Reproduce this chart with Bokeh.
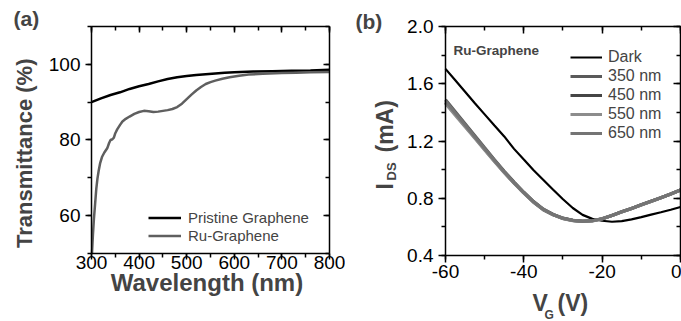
import numpy as np
from bokeh.plotting import figure
from bokeh.layouts import row
from bokeh.models import (Range1d, LinearAxis, SingleIntervalTicker, NumeralTickFormatter,
                          Label, Legend, LegendItem)
from bokeh.embed import file_html
from bokeh.resources import INLINE

# ---------------- data: panel (a) ----------------
wl_pristine = [300, 320, 340, 360, 380, 400, 420, 440, 460, 480, 500, 520, 540, 560, 580,
               600, 640, 680, 720, 760, 800]
t_pristine = [90.0, 91.0, 91.9, 92.6, 93.5, 94.2, 94.8, 95.5, 96.1, 96.6, 96.9, 97.2, 97.4,
              97.6, 97.8, 97.9, 98.1, 98.2, 98.3, 98.4, 98.6]

wl_ru = [301, 303, 305, 307.5, 310, 312.5, 315, 318, 322, 327, 333, 337, 340, 344, 347, 350,
         354, 360, 365, 372, 380, 390, 400, 410, 420, 430, 440, 450, 460, 470, 480, 490, 500,
         510, 520, 530, 540, 550, 560, 575, 590, 610, 630, 660, 700, 730, 760, 800]
t_ru = [50.0, 55.0, 59.0, 63.0, 67.0, 69.8, 71.8, 73.8, 75.5, 76.7, 77.8, 79.2, 80.0, 80.2,
        80.6, 81.8, 82.8, 84.0, 84.9, 85.6, 86.2, 86.9, 87.4, 87.7, 87.6, 87.4, 87.5, 87.7,
        87.9, 88.2, 88.7, 89.6, 90.8, 92.0, 93.1, 94.0, 94.8, 95.3, 95.7, 96.2, 96.6, 97.0,
        97.3, 97.5, 97.7, 97.8, 97.9, 98.0]

# ---------------- data: panel (b) ----------------
vg = [-60, -57.5, -55, -52.5, -50, -47.5, -45, -42.5, -40, -37.5, -35, -32.5, -30, -27.5,
      -25, -22.5, -20, -17.5, -15, -12.5, -10, -7.5, -5, -2.5, 0]
i_dark = [1.704, 1.624, 1.544, 1.464, 1.386, 1.308, 1.232, 1.145, 1.070, 0.996, 0.928, 0.860,
          0.793, 0.732, 0.684, 0.656, 0.643, 0.636, 0.640, 0.652, 0.668, 0.686, 0.702, 0.720,
          0.739]
i_350 = [1.488, 1.404, 1.320, 1.236, 1.152, 1.069, 0.989, 0.913, 0.842, 0.777, 0.723, 0.687,
         0.661, 0.646, 0.640, 0.643, 0.657, 0.680, 0.705, 0.729, 0.754, 0.779, 0.804, 0.830,
         0.857]
i_450 = [1.470, 1.388, 1.306, 1.224, 1.142, 1.060, 0.982, 0.907, 0.838, 0.773, 0.720, 0.685,
         0.659, 0.645, 0.639, 0.643, 0.657, 0.680, 0.705, 0.729, 0.754, 0.779, 0.804, 0.830,
         0.857]
i_550 = [1.462, 1.381, 1.300, 1.219, 1.138, 1.057, 0.979, 0.905, 0.836, 0.772, 0.719, 0.684,
         0.658, 0.644, 0.638, 0.642, 0.656, 0.679, 0.704, 0.728, 0.753, 0.778, 0.803, 0.829,
         0.856]
i_650 = [1.480, 1.396, 1.313, 1.230, 1.147, 1.065, 0.985, 0.910, 0.840, 0.775, 0.722, 0.686,
         0.660, 0.645, 0.639, 0.643, 0.657, 0.680, 0.705, 0.729, 0.754, 0.779, 0.804, 0.830,
         0.858]
series_b = [("Dark", i_dark, "black", 2.2), ("350 nm", i_350, "#5a5a5a", 3.2),
            ("450 nm", i_450, "#454545", 3.2), ("550 nm", i_550, "#8c8c8c", 3.2),
            ("650 nm", i_650, "#747474", 3.2)]

FONT = "Liberation Sans"


def make_axes(p, xticker, yticker, xb, yb, xfmt=None, yfmt=None, tick_len=7, xstand=2):
    """Box of four axes drawn at fixed locations (bottom/left ticks out, top/right ticks in)."""
    p.xgrid.visible = False
    p.ygrid.visible = False
    p.outline_line_color = None
    p.background_fill_color = "white"
    p.border_fill_color = "white"
    specs = [("below", xticker, xfmt, xb, yb[0], False),
             ("left", yticker, yfmt, yb, xb[0], False),
             ("above", xticker, None, xb, yb[1], True),
             ("right", yticker, None, yb, xb[1], True)]
    for loc, tk, fmt, bounds, fixed, mirror in specs:
        ax = LinearAxis(ticker=tk, bounds=bounds, fixed_location=fixed,
                        axis_line_width=1.5, major_tick_line_width=1.5,
                        minor_tick_line_width=1.5,
                        major_label_text_font=FONT, major_label_text_font_size="19px",
                        major_label_text_color="black")
        if fmt is not None:
            ax.formatter = fmt
        if mirror:
            ax.major_tick_in, ax.major_tick_out = tick_len, 0
            ax.minor_tick_in, ax.minor_tick_out = 4, 0
            ax.major_label_text_color = None
        else:
            ax.major_tick_in, ax.major_tick_out = 0, tick_len
            ax.minor_tick_in, ax.minor_tick_out = 0, 4
            ax.major_label_standoff = xstand if loc == "below" else 5
        p.add_layout(ax, loc)


def label(p, x, y, text, size, align="left", angle=0.0):
    p.add_layout(Label(x=x, y=y, text=text, text_font=FONT, text_font_style="bold",
                       text_font_size=size, text_align=align, text_baseline="alphabetic",
                       angle=angle))


# ---------------- panel (a) ----------------
pa = figure(width=345, height=321, x_range=Range1d(108.82, 833.61),
            y_range=Range1d(32.026, 116.872), x_axis_location=None, y_axis_location=None,
            output_backend="svg", toolbar_location=None,
            min_border_left=0, min_border_right=0, min_border_top=0, min_border_bottom=0)
make_axes(pa, SingleIntervalTicker(interval=100, num_minor_ticks=2),
          SingleIntervalTicker(interval=20, num_minor_ticks=2), (300, 800), (50, 110),
          tick_len=6, xstand=-3)

r_p = pa.line(wl_pristine, t_pristine, line_color="black", line_width=2.5)
r_r = pa.line(wl_ru, t_ru, line_color="#5f5f5f", line_width=2.5)
leg_a = Legend(items=[LegendItem(label="Pristine Graphene", renderers=[r_p]),
                      LegendItem(label="Ru-Graphene", renderers=[r_r])],
               location=(148, 77), label_text_font=FONT, label_text_font_size="15px",
               glyph_width=33, glyph_height=17, label_height=17, label_standoff=7,
               spacing=1, padding=0, margin=0, border_line_color=None,
               background_fill_alpha=0)
pa.add_layout(leg_a)

label(pa, 136.1, 112.1, "(a)", "21px")
label(pa, 542.6, 42.4, "Wavelength (nm)", "24px", align="center")
label(pa, 159.3, 76.5, "Transmittance (%)", "22px", align="center", angle=np.pi / 2)

# ---------------- panel (b) ----------------
pb = figure(width=336, height=321, x_range=Range1d(-85.53, 0.255),
            y_range=Range1d(-0.0611, 2.1817), x_axis_location=None, y_axis_location=None,
            output_backend="svg", toolbar_location=None,
            min_border_left=0, min_border_right=0, min_border_top=0, min_border_bottom=0)
make_axes(pb, SingleIntervalTicker(interval=20, num_minor_ticks=2),
          SingleIntervalTicker(interval=0.4, num_minor_ticks=2), (-60, 0), (0.4, 2.0),
          xfmt=NumeralTickFormatter(format="0"), yfmt=NumeralTickFormatter(format="0.0"))

items_b = []
for name, vals, col, lw in series_b:
    r = pb.line(vg, vals, line_color=col, line_width=lw)
    items_b.append(LegendItem(label=name, renderers=[r]))
leg_b = Legend(items=items_b, location=(225, 179), label_text_font=FONT,
               label_text_font_size="16px", glyph_width=32, glyph_height=18, label_height=18,
               label_standoff=6, spacing=1, padding=0, margin=0, border_line_color=None,
               background_fill_alpha=0)
pb.add_layout(leg_b)

label(pb, -57.96, 1.832, "Ru-Graphene", "13.5px")
label(pb, -82.98, 2.035, "(b)", "21px")
# x title: V_G (V)
label(pb, -37.79, 0.0716, "V", "23px")
label(pb, -34.73, -0.0156, "G", "12px")
label(pb, -31.41, 0.0716, "(V)", "23px")
# y title: I_DS (mA)
label(pb, -75.32, 0.861, "I", "23px", angle=np.pi / 2)
label(pb, -73.66, 0.924, "DS", "13px", angle=np.pi / 2)
label(pb, -75.32, 1.1197, "(mA)", "23px", angle=np.pi / 2)

layout = row(pa, pb, spacing=0)
open("out.html", "w").write(file_html(layout, INLINE))
